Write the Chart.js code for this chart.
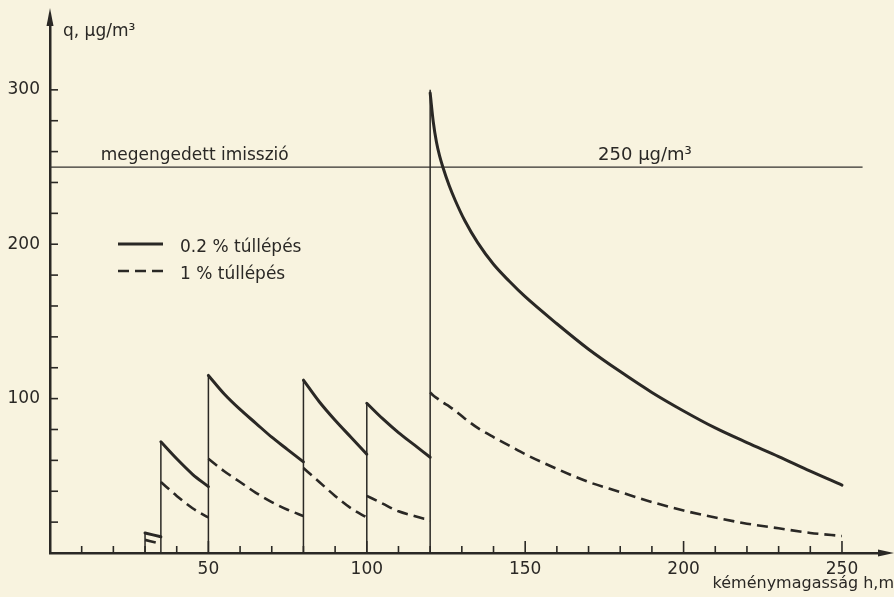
<!DOCTYPE html>
<html>
<head>
<meta charset="utf-8">
<script src="https://cdn.jsdelivr.net/npm/chart.js@4.4.1/dist/chart.umd.min.js"></script>
<style>
  html, body { margin: 0; padding: 0; background: #f8f3df; }
  canvas { display: block; }
</style>
</head>
<body>
<canvas id="c" width="894" height="597"></canvas>
<script>
// ---- data ----
// chimney height h (m) for each segment of the curves
const segH = [
  [30, 35],
  [35, 40, 45, 50],
  [50, 55, 60, 65, 70, 75, 80],
  [80, 85, 90, 95, 100],
  [100, 105, 110, 115, 120],
  [120, 121, 122, 123, 124, 126, 128, 131, 135, 140, 145, 150, 160, 170, 180, 190, 200, 210, 220, 230, 240, 250]
];
// 0.2 % exceedance concentration (µg/m³)
const q02 = [
  [13, 10.5],
  [72, 61, 51, 43],
  [115, 103, 93, 84, 75, 67, 59],
  [112, 98, 86, 75, 64],
  [97, 87, 78, 70, 62],
  [298, 279, 266, 257, 250, 238, 228, 215, 201, 187, 176, 166, 148.5, 132, 117.5, 104, 92, 81, 71.5, 62.5, 53, 44]
];
// 1 % exceedance concentration (µg/m³)
const q1 = [
  [8.5, 6],
  [46, 37, 29, 23],
  [61, 53, 46, 39, 33, 28, 24],
  [55, 46, 37, 29, 23],
  [37, 32, 27, 24, 21],
  [104, 102, 100.5, 99, 97.5, 95, 92, 87, 81, 75, 69.5, 64, 54.5, 46, 39.5, 33, 27.5, 23, 19, 16, 13, 11]
];
// heights where the curves jump, and the height of each jump line
const stepH = [30, 35, 50, 80, 100, 120];
const stepTop = [13, 72, 115, 112, 97, 300];
// permitted immission limit
const limitQ = 250;
const limitH = [0, 256.5];
// axis ticks
const xTickLabels = [50, 100, 150, 200, 250];
const yTickLabels = [100, 200, 300];
const xMinorTicks = [10, 20, 30, 40, 50, 60, 70, 80, 90, 100, 110, 120, 130, 140, 150, 160, 170, 180, 190, 200, 210, 220, 230, 240, 250];
const yMinorTicks = [20, 40, 60, 80, 100, 120, 140, 160, 180, 200, 220, 240, 260, 280, 300];
const xMax = 262, yMax = 342;

// ---- texts ----
const label02 = '0.2 % túllépés';
const label1 = '1 % túllépés';
const yTitle = 'q, μg/m³';
const xTitle = 'kéménymagasság h,m';
const limitText = 'megengedett imisszió';
const limitValueText = '250 μg/m³';

const ink = '#2a2825';
const FONT = '"DejaVu Sans", sans-serif';

function joinSegments(xs, ys) {
  const out = [];
  xs.forEach((seg, i) => {
    seg.forEach((h, j) => out.push({ x: h, y: ys[i][j] }));
    if (i < xs.length - 1) out.push({ x: seg[seg.length - 1], y: null });
  });
  return out;
}
function stepLines() {
  const out = [];
  stepH.forEach((h, i) => {
    out.push({ x: h, y: 0 }, { x: h, y: stepTop[i] }, { x: h, y: null });
  });
  return out;
}

const overlay = {
  id: 'overlay',
  afterDatasetsDraw(chart) {
    const { ctx, chartArea: a, scales: { x, y } } = chart;
    ctx.save();
    ctx.strokeStyle = ink;
    ctx.fillStyle = ink;
    ctx.lineWidth = 1.6;
    const line = (x1, y1, x2, y2) => { ctx.beginPath(); ctx.moveTo(x1, y1); ctx.lineTo(x2, y2); ctx.stroke(); };
    // minor ticks on x (pointing up)
    xMinorTicks.forEach(v => {
      const px = x.getPixelForValue(v);
      const len = xTickLabels.includes(v) ? 12 : 7;
      line(px, a.bottom, px, a.bottom - len);
    });
    // minor ticks on y (pointing right)
    yMinorTicks.forEach(v => {
      const py = y.getPixelForValue(v);
      line(a.left, py, a.left + 8, py);
    });
    // arrow heads
    ctx.beginPath();
    ctx.moveTo(a.left, a.top - 17);
    ctx.lineTo(a.left - 3.5, a.top + 1);
    ctx.lineTo(a.left + 3.5, a.top + 1);
    ctx.closePath(); ctx.fill();
    ctx.beginPath();
    ctx.moveTo(a.right + 14, a.bottom);
    ctx.lineTo(a.right - 2, a.bottom - 3.5);
    ctx.lineTo(a.right - 2, a.bottom + 3.5);
    ctx.closePath(); ctx.fill();

    // texts
    ctx.textBaseline = 'alphabetic';
    ctx.textAlign = 'left';
    ctx.font = '17px ' + FONT;
    ctx.fillText(yTitle, a.left + 13, 36);
    ctx.fillText(limitText, x.getPixelForValue(16), y.getPixelForValue(limitQ) - 7);
    ctx.font = '18px ' + FONT;
    ctx.fillText(limitValueText, x.getPixelForValue(173), y.getPixelForValue(limitQ) - 7);
    ctx.font = '16px ' + FONT;
    ctx.textAlign = 'right';
    ctx.fillText(xTitle, chart.width, 588);

    // legend
    ctx.textAlign = 'left';
    ctx.font = '17px ' + FONT;
    const items = [chart.data.datasets[0], chart.data.datasets[1]];
    items.forEach((ds, i) => {
      const ly = 244 + i * 27;
      ctx.save();
      ctx.lineWidth = ds.borderWidth;
      ctx.setLineDash(ds.borderDash || []);
      line(118, ly, 163, ly);
      ctx.restore();
      ctx.fillText(ds.label, 180, ly + 8);
    });
    ctx.restore();
  }
};

new Chart(document.getElementById('c'), {
  type: 'line',
  data: {
    datasets: [
      {
        label: label02,
        data: joinSegments(segH, q02),
        borderColor: ink, borderWidth: 3,
        pointRadius: 0, cubicInterpolationMode: 'monotone', spanGaps: false,
        borderCapStyle: 'round'
      },
      {
        label: label1,
        data: joinSegments(segH, q1),
        borderColor: ink, borderWidth: 2.6, borderDash: [11, 6],
        pointRadius: 0, cubicInterpolationMode: 'monotone', spanGaps: false
      },
      {
        label: 'steps',
        data: stepLines(),
        borderColor: ink, borderWidth: 1.5,
        pointRadius: 0, tension: 0, spanGaps: false
      },
      {
        label: 'limit',
        data: limitH.map(h => ({ x: h, y: limitQ })),
        borderColor: '#33312e', borderWidth: 1.2,
        pointRadius: 0, tension: 0
      }
    ]
  },
  options: {
    responsive: false,
    animation: false,
    events: [],
    layout: { padding: { top: 25, right: 14, left: 0, bottom: 0 } },
    plugins: { legend: { display: false }, tooltip: { enabled: false } },
    scales: {
      x: {
        type: 'linear', min: 0, max: xMax,
        grid: { display: false, drawTicks: false },
        border: { display: true, color: ink, width: 2.5 },
        ticks: { color: ink, font: { family: FONT, size: 17 }, padding: 6, maxRotation: 0 },
        afterBuildTicks: s => { s.ticks = xTickLabels.map(v => ({ value: v })); },
        afterFit: s => { s.height = 44; }
      },
      y: {
        type: 'linear', min: 0, max: yMax,
        grid: { display: false, drawTicks: false },
        border: { display: true, color: ink, width: 2.5 },
        ticks: { color: ink, font: { family: FONT, size: 17 }, padding: 10 },
        afterBuildTicks: s => { s.ticks = yTickLabels.map(v => ({ value: v })); },
        afterFit: s => { s.width = 50; }
      }
    }
  },
  plugins: [overlay]
});
</script>
</body>
</html>
